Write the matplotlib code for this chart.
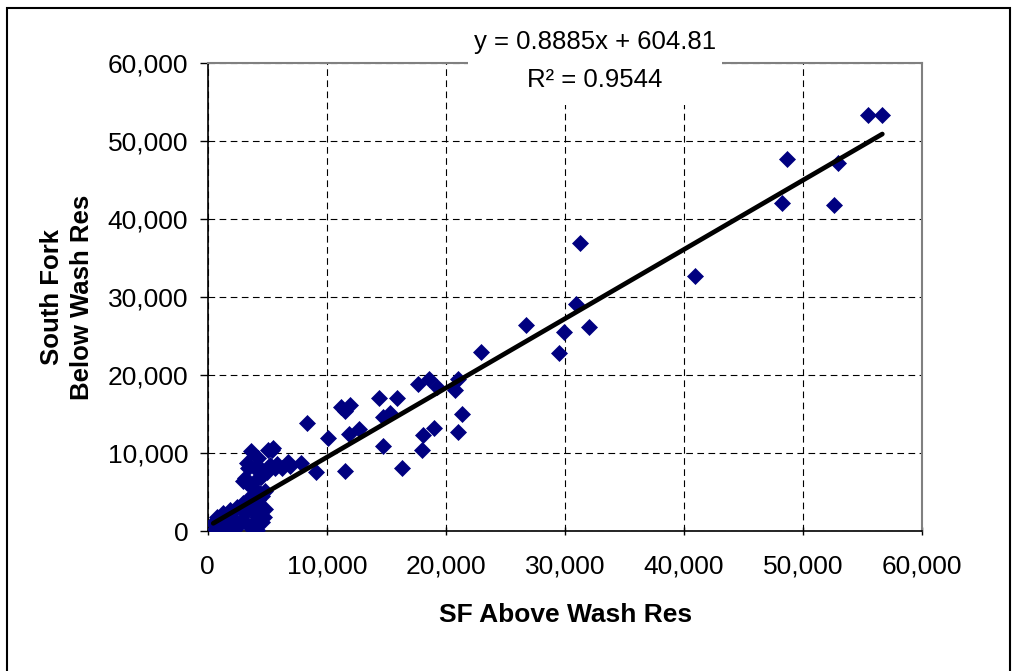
import matplotlib.pyplot as plt
import matplotlib.ticker as mticker
from matplotlib.patches import Rectangle

plt.rcParams['font.family'] = ['Liberation Sans', 'DejaVu Sans']

# SF above Wash Res (x) vs South Fork below Wash Res (y)
above = [470, 760, 890, 1000, 600, 1310, 1450, 1700, 1870, 2010, 2150, 2430, 2500,
         2710, 2990, 3000, 3130, 3550, 3550, 3700, 3900, 4110, 4110, 4250, 4300,
         4390, 4530, 4600, 4700, 4800, 3830, 3270, 3000, 4000, 4500, 4800, 3130,
         3270, 3380, 3610, 4230, 3970, 4530, 4560, 5000, 5090, 5370, 5460, 5230,
         5650, 5790, 6210, 6740, 6910, 7810, 9090, 8310,
         10130, 11170, 11530, 11950, 11890, 12730, 11530, 14410, 14690, 15310,
         14690, 15870, 16290, 17680, 18580, 19230, 17970, 18100, 19000, 20760,
         21040, 21330, 20990, 22970, 26700, 29520, 29890, 30950, 32040, 31260,
         40910, 48250, 48640, 52590, 52950, 55470, 56640]
below = [1030, 1870, 170, 600, 300, 2310, 1230, 1000, 2730, 200, 1670, 3150, 500,
         1230, 3590, 1500, 2310, 590, 4440, 2800, 1000, 1870, 170, 4010, 3300,
         4870, 1230, 4500, 1800, 2900, 5510, 6150, 6500, 6500, 7000, 5200, 6830,
         8720, 8100, 10290, 9400, 8080, 7860, 7600, 7600, 10420, 10420, 10640, 8500,
         8100, 8630, 8080, 8880, 8370, 8800, 7640, 13920,
         11920, 15980, 15420, 16190, 12470, 13080, 7770, 17050, 14620, 15130,
         10940, 17050, 8070, 18850, 19530, 18540, 10420, 12300, 13240, 18120,
         19530, 15040, 12690, 22990, 26490, 22900, 25550, 29140, 26230, 36960,
         32730, 42050, 47690, 41790, 47260, 53370, 53370]

slope, intercept = 0.8885, 604.81
eq_lines = ['y = 0.8885x + 604.81', 'R\u00b2 = 0.9544']

fig = plt.figure(figsize=(10.13, 6.71), dpi=100)
ax = fig.add_axes([0.205, 0.2082, 0.7055, 0.6975])

ax.plot(above, below, linestyle='none', marker='D', markersize=8,
        color='#000080', markeredgewidth=0.5, zorder=3)

x_fit = [min(above), max(above)]
ax.plot(x_fit, [slope * v + intercept for v in x_fit], color='black', lw=3.4,
        solid_capstyle='round', zorder=4)

ax.set_xlim(0, 60000)
ax.set_ylim(0, 60000)
ax.xaxis.set_major_locator(mticker.MultipleLocator(10000))
ax.yaxis.set_major_locator(mticker.MultipleLocator(10000))
fmt = mticker.FuncFormatter(lambda v, p: f'{int(v):,}')
ax.xaxis.set_major_formatter(fmt)
ax.yaxis.set_major_formatter(fmt)

ax.grid(True, color='black', linestyle=(0, (6, 4)), linewidth=0.8)
ax.tick_params(axis='x', direction='inout', length=6, width=1, labelsize=19, pad=14)
ax.tick_params(axis='y', direction='out', length=6, width=1, labelsize=19, pad=8)

for s in ['top', 'right']:
    ax.spines[s].set_color('#808080')
    ax.spines[s].set_linewidth(1.5)
for s in ['left', 'bottom']:
    ax.spines[s].set_color('black')
    ax.spines[s].set_linewidth(1.2)

fig.text(566 / 1013, 1 - 615 / 671, 'SF Above Wash Res', fontsize=19,
         fontweight='bold', ha='center', va='center')
fig.text(67 / 1013, 1 - 297 / 671, 'South Fork\nBelow Wash Res', fontsize=18.5,
         fontweight='bold', ha='center', va='center', rotation=90, linespacing=1.3)

# white box behind the trendline equation
fig.patches.append(Rectangle((468 / 1013, 1 - 105 / 671), 254 / 1013, 85 / 671,
                             transform=fig.transFigure, facecolor='white',
                             edgecolor='none', zorder=5))
fig.text(595 / 1013, 1 - 42 / 671, eq_lines[0], fontsize=18.5, ha='center',
         va='center', zorder=6)
fig.text(595 / 1013, 1 - 80 / 671, eq_lines[1], fontsize=18.5, ha='center',
         va='center', zorder=6)

# outer chart border
fig.patches.append(Rectangle((7 / 1013, -0.05), 1003 / 1013, 1.05 - 8 / 671,
                             transform=fig.transFigure, facecolor='none',
                             edgecolor='black', linewidth=1.5, zorder=7))

fig.savefig('out.png', dpi=100)
